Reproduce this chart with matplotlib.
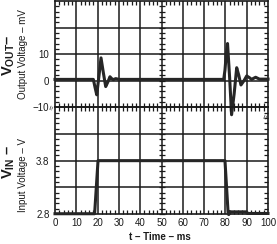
import matplotlib
matplotlib.use("Agg")
import matplotlib.pyplot as plt
from matplotlib.ticker import MultipleLocator
import numpy as np

plt.rcParams["font.family"] = ["Liberation Sans", "DejaVu Sans"]
plt.rcParams["mathtext.fontset"] = "custom"
plt.rcParams["mathtext.rm"] = "Liberation Sans"
plt.rcParams["mathtext.bf"] = "Liberation Sans:bold"

# Output voltage transient (mV)
t_out = [0, 18.0, 18.8, 19.6, 20.6, 21.6, 22.7, 23.8, 24.8, 25.8, 26.6, 27.4, 28.5, 30,
         79.2, 79.8, 80.4, 81.0, 82.0, 82.9, 84.1, 85.3, 86.3, 87.3, 88.7, 90.0, 91.2,
         92.3, 93.2, 94.2, 96, 100]
v_out = [0.5, 0.5, -2.5, -5.3, 1.5, 8.6, 3.0, -2.2, -0.5, 1.5, 0.8, 0.4, 0.8, 0.5,
         0.5, 4.0, 10.0, 14.0, 1.0, -12.8, -5.0, 4.9, 2.0, -1.6, 0.0, 1.8, 1.2,
         0.5, 0.9, 1.3, 0.6, 0.6]

# Input voltage step (V)
t_in = [0, 18.6, 20.2, 79.8, 81.3, 81.6, 82.0, 90.0, 90.3, 100]
v_in = [2.805, 2.805, 3.8, 3.8, 2.8, 2.79, 2.84, 2.84, 2.81, 2.81]

x_ticks = [0, 10, 20, 30, 40, 50, 60, 70, 80, 90, 100]
out_ticks = [-10, 0, 10, 20, 30]
out_labels = ["\u221210", "0", "10", "", ""]
in_ticks = [2.8, 3.3, 3.8, 4.3, 4.8]
in_labels = ["2.8", "", "3.8", "", ""]

LINE = "#262626"
GRID = "#1a1a1a"
INK = "#1a1a1a"
W, H = 277, 244

fig = plt.figure(figsize=(W / 100, H / 100), dpi=100)
fig.set_facecolor("white")
ax1 = fig.add_axes([55 / W, 1 - 107.3 / H, 213 / W, 106.3 / H])
ax2 = fig.add_axes([55 / W, 1 - 214 / H, 213 / W, 106.7 / H])
ax2.patch.set_alpha(0)


def style(ax, yticks, ylabels, minor_y):
    ax.set_xlim(0, 100)
    ax.set_ylim(yticks[0], yticks[-1])
    ax.set_xticks(x_ticks)
    ax.set_yticks(yticks, ylabels)
    ax.xaxis.set_minor_locator(MultipleLocator(2))
    ax.yaxis.set_minor_locator(MultipleLocator(minor_y))
    # scope graticule
    ax.vlines(x_ticks[1:-1], yticks[0], yticks[-1], colors=GRID,
              linewidth=1.1, zorder=1)
    ax.hlines(yticks[1:-1], 0, 100, colors=GRID, linewidth=1.1, zorder=1)
    for s in ax.spines.values():
        s.set_color(INK)
        s.set_linewidth(1.2)
    ax.tick_params(which="both", direction="in", top=True, right=True,
                   left=True, bottom=True, labelsize=7, colors=INK)
    ax.tick_params(which="major", length=0, pad=4)
    ax.tick_params(which="minor", length=2.8, width=0.9)
    # tick marks along the centre line at t = 50
    ys = np.arange(yticks[0], yticks[-1] + minor_y / 2, minor_y)
    ax.plot(np.full(len(ys), 50), ys, linestyle="none", marker="_",
            markersize=4, markeredgewidth=0.9, color=INK, zorder=2, clip_on=False)


style(ax1, out_ticks, out_labels, 2)
ax1.tick_params(labelbottom=False)

style(ax2, in_ticks, in_labels, 0.1)
ax2.set_xticklabels([str(v) for v in x_ticks])
ax2.tick_params(axis="x", pad=3)

ax1.plot(t_out, v_out, color=LINE, linewidth=2.2, clip_on=False, zorder=5,
         solid_joinstyle="round")
ax2.plot(t_in, v_in, color=LINE, linewidth=2.2, clip_on=False, zorder=5,
         solid_joinstyle="round")

# axis break marks
fig.text(52 / W, 1 - 108 / H, "\u2248", rotation=70, fontsize=6, ha="center",
         va="center", color="#333333")
fig.text(266 / W, 1 - 117 / H, "\u2248", rotation=70, fontsize=6, ha="center",
         va="center", color="#333333")

fig.text(9 / W, 1 - 55 / H, r"$\mathbf{V_{OUT}}$" + "\u2013", rotation=90,
         fontsize=10.5, fontweight="bold", ha="center", va="center", color=INK)
fig.text(23 / W, 1 - 54 / H, "Output Voltage \u2013 mV", rotation=90, fontsize=7,
         ha="center", va="center", color=INK)
fig.text(9 / W, 1 - 162 / H, r"$\mathbf{V_{IN}}$" + " \u2013", rotation=90,
         fontsize=10.5, fontweight="bold", ha="center", va="center", color=INK)
fig.text(23 / W, 1 - 175 / H, "Input Voltage \u2013 V", rotation=90, fontsize=7,
         ha="center", va="center", color=INK)
fig.text(160 / W, 1 - 237 / H, "t \u2013 Time \u2013 ms", fontsize=7,
         fontweight="bold", ha="center", va="center", color=INK)

fig.savefig("out.png", dpi=100, facecolor="white")
